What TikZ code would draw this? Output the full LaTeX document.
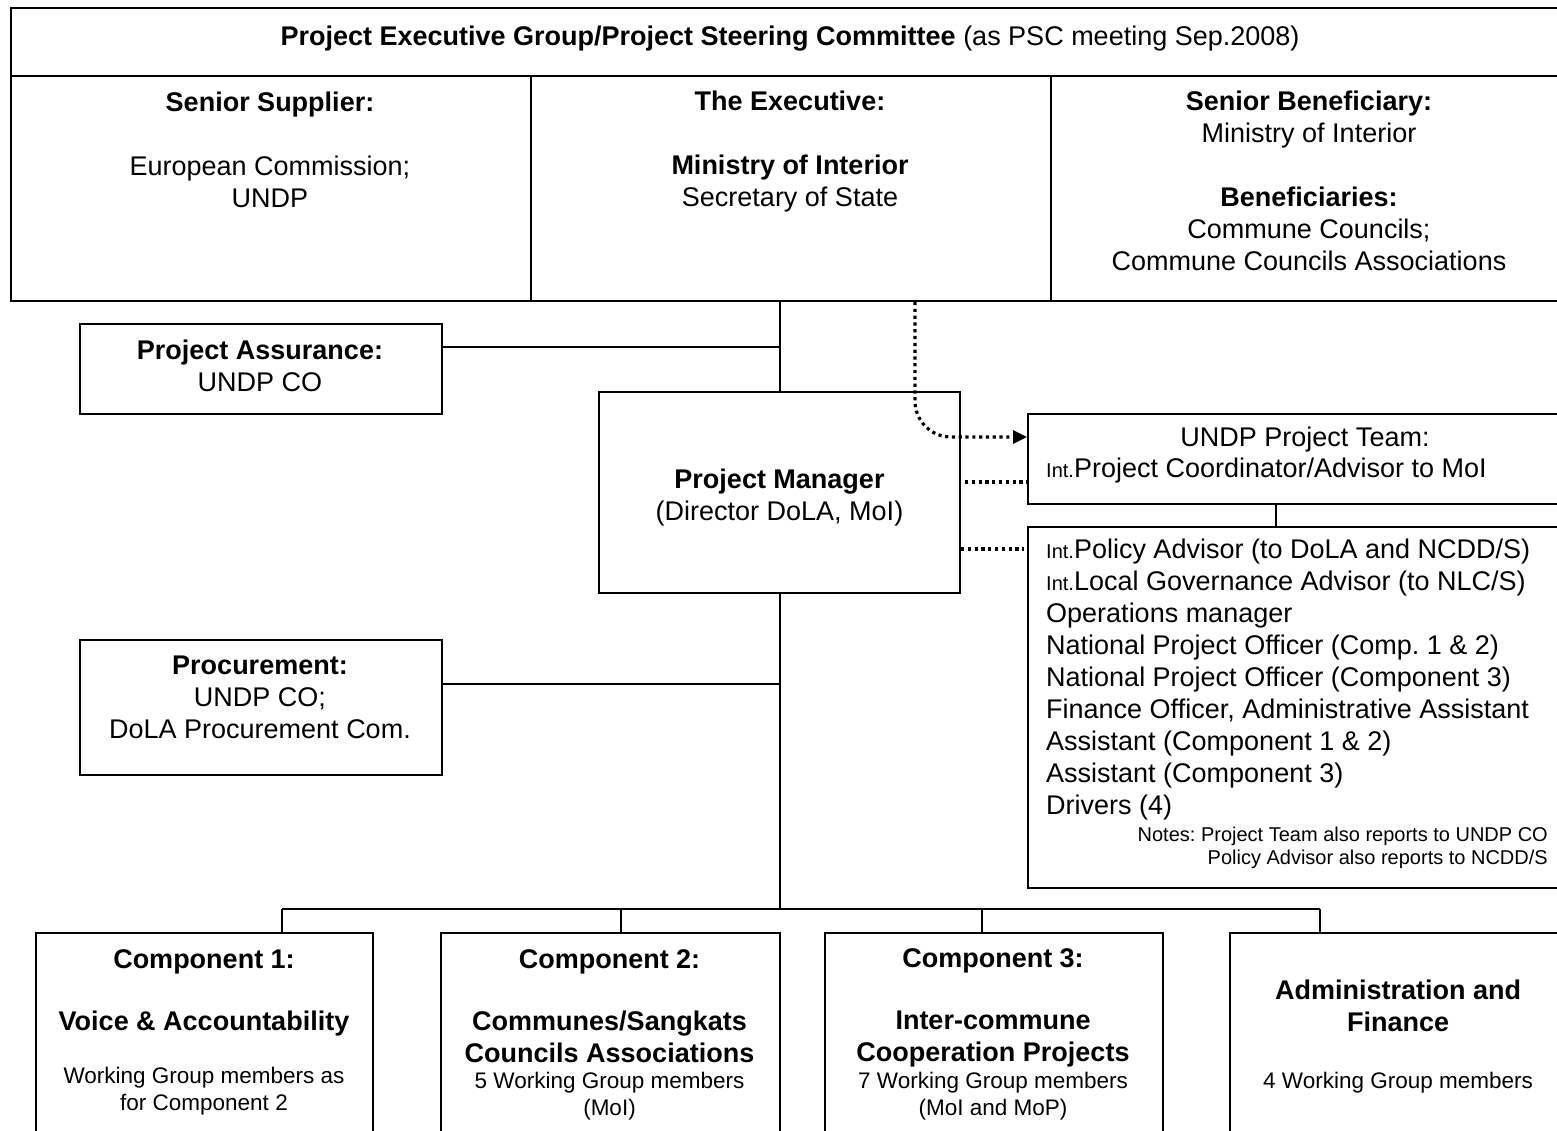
\documentclass[tikz,border=0pt]{standalone}
\usepackage{fontspec}
\setmainfont{Liberation Sans}
\frenchspacing
\usetikzlibrary{arrows.meta,positioning,calc}
\newcommand{\mainsz}{\fontsize{27}{32}\selectfont}
\newcommand{\compsz}{\fontsize{22.5}{27}\selectfont}
\newcommand{\notesz}{\fontsize{20}{23.5}\selectfont}
\newcommand{\intpre}{{\fontsize{20}{24}\selectfont Int.}}

\begin{document}
\begin{tikzpicture}[x=1pt,y=-1pt,font=\mainsz,
  box/.style={draw,line width=2pt,anchor=north west,inner sep=0pt},
  txt/.style={inner sep=0pt,align=center},
  link/.style={line width=2pt},
  dots/.style={line width=3.2pt,dash pattern=on 3.2pt off 3.6pt}]
  \useasboundingbox (0,0) rectangle (1557,1131);
  \clip (0,0) rectangle (1557,1131);

  \node[box,minimum width=1560pt,minimum height=68pt] (psc) at (10,7) {};
  \node[box,minimum width=520pt,minimum height=225pt] (ss) at (10,75) {};
  \node[box,minimum width=520pt,minimum height=225pt] (ex) at (530,75) {};
  \node[box,minimum width=520pt,minimum height=225pt] (sb) at (1050,75) {};
  \node[txt] (psct) at (790,39) {\textbf{Project Executive Group/Project Steering Committee} (as PSC meeting Sep.2008)};
  \node[txt] (sst) at (270,149.5) {\textbf{Senior Supplier:}\\[32pt]European Commission;\\UNDP};
  \node[txt] (ext) at (790,151.5) {\textbf{The Executive:}\\[32pt]\textbf{Ministry of Interior}\\Secretary of State};
  \node[txt] (sbt) at (1309,181) {\textbf{Senior Beneficiary:}\\Ministry of Interior\\[32pt]\textbf{Beneficiaries:}\\Commune Councils;\\Commune Councils Associations};

  \node[box,minimum width=362pt,minimum height=90pt] (pa) at (79,323) {};
  \node[txt] (pat) at (260,366) {\textbf{Project Assurance:}\\UNDP CO};
  \node[box,minimum width=362pt,minimum height=135pt] (pr) at (79,639) {};
  \node[txt] (prt) at (260,697) {\textbf{Procurement:}\\UNDP CO;\\DoLA Procurement Com.};

  \node[box,minimum width=361pt,minimum height=201pt] (pm) at (598,391) {};
  \node[txt] (pmt) at ([yshift=-5.5pt]pm.center) {\textbf{Project Manager}\\(Director DoLA, MoI)};

  \node[box,minimum width=550pt,minimum height=90pt] (tm) at (1027,413) {};
  \node[txt] (tmt) at (1305,440) {UNDP Project Team:};
  \node[txt,anchor=west] (tmc) at (1046,471) {\intpre Project Coordinator/Advisor to MoI};
  \node[box,minimum width=550pt,minimum height=361pt] (tl) at (1027,526) {};
  \node[txt,align=left,anchor=west] (tlt) at (1046,680) {\intpre Policy Advisor (to DoLA and NCDD/S)\\
    \intpre Local Governance Advisor (to NLC/S)\\Operations manager\\
    National Project Officer (Comp. 1 \& 2)\\National Project Officer (Component 3)\\
    Finance Officer, Administrative Assistant\\Assistant (Component 1 \& 2)\\
    Assistant (Component 3)\\Drivers (4)};
  \node[txt,align=right,anchor=east,font=\notesz] (nts) at (1548,848) {Notes: Project Team also reports to UNDP CO\\Policy Advisor also reports to NCDD/S};

  \node[box,minimum width=337pt,minimum height=220pt] (c1) at (35,932) {};
  \node[box,minimum width=339pt,minimum height=220pt] (c2) at (440,932) {};
  \node[box,minimum width=338pt,minimum height=220pt] (c3) at (824,932) {};
  \node[box,minimum width=338pt,minimum height=220pt] (c4) at (1229,932) {};
  \node[txt,font=\mainsz\bfseries] (c1t) at (204,993) {Component 1:\\[30pt]Voice \& Accountability};
  \node[txt,font=\compsz] (c1s) at (204,1091) {Working Group members as\\for Component 2};
  \node[txt,font=\mainsz\bfseries] (c2t) at (609.5,1006.5) {Component 2:\\[30pt]Communes/Sangkats\\Councils Associations};
  \node[txt,font=\compsz] (c2s) at (609.5,1096) {5 Working Group members\\(MoI)};
  \node[txt,font=\mainsz\bfseries] (c3t) at (993,1008) {Component 3:\\[30pt]Inter-commune\\Cooperation Projects};
  \node[txt,font=\compsz] (c3s) at (993,1096) {7 Working Group members\\(MoI and MoP)};
  \node[txt,font=\mainsz\bfseries] (c4t) at (1398,1006) {Administration and\\Finance};
  \node[txt,font=\compsz] (c4s) at (1398,1083) {4 Working Group members};

  \coordinate (d1) at (282,909);
  \coordinate (d2) at (621,909);
  \coordinate (d3) at (982,909);
  \coordinate (d4) at (1320,909);

  \draw[link] (pm.north) -- (pm.north |- ex.south);
  \draw[link] ([yshift=22pt]pa.east) -| (pm.north);
  \draw[link] ([yshift=23.5pt]pr.east) -| (pm.south);
  \draw[link] (pm.south) -- (pm.south |- d1);
  \draw[link] (d1) -- (d4);
  \foreach \d/\c in {d1/c1,d2/c2,d3/c3,d4/c4}
    \draw[link] (\d) -- (\d |- \c.north);
  \draw[link] ([xshift=-27pt]tm.south) -- ([xshift=-27pt]tl.north);

  \draw[dots,rounded corners=36pt,-{Triangle[length=14pt,width=13pt]}] ([xshift=124pt]ex.south) |- ([yshift=22pt]tm.west);
  \draw[dots] ([xshift=4pt,yshift=10.5pt]pm.east) -- ([yshift=-23pt]tm.west);
  \draw[dots] ([yshift=-56.5pt]pm.east) -- ([xshift=-3pt,yshift=158.5pt]tl.west);
\end{tikzpicture}
\end{document}
